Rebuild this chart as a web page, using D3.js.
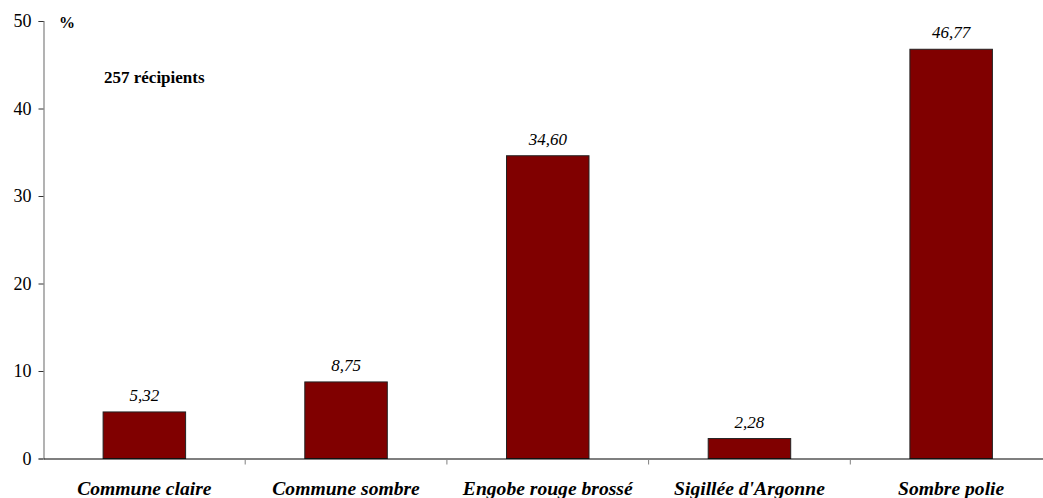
<!DOCTYPE html>
<html>
<head>
<meta charset="utf-8">
<script src="https://cdn.jsdelivr.net/npm/d3@7"></script>
<style>
  html, body { margin: 0; padding: 0; background: #fff; }
  svg { display: block; }
  svg text { font-family: "Times New Roman", "Liberation Serif", serif !important; fill: #000; }
</style>
</head>
<body>
<script>
const categories = ["Commune claire", "Commune sombre", "Engobe rouge brossé", "Sigillée d'Argonne", "Sombre polie"];
const values = [5.32, 8.75, 34.60, 2.28, 46.77];
const yTicks = [0, 10, 20, 30, 40, 50];
const unitLabel = "%";
const noteLabel = "257 récipients";

const W = 1043, H = 498;
const svg = d3.select("body").append("svg").attr("width", W).attr("height", H);

const x0 = 43.5, x1 = 1052;
const y = d3.scaleLinear().domain([0, 50]).range([458.5, 21]);
const xGroup = d3.scaleBand().domain(categories).range([x0, x1]).padding(0);
const x = d3.scaleBand().domain(categories).range([x0, x1]).paddingInner(0.591).paddingOuter(0.2955);

// bars
svg.append("g").selectAll("rect").data(values).join("rect")
  .attr("x", (d, i) => x(categories[i]))
  .attr("y", d => y(d))
  .attr("width", x.bandwidth())
  .attr("height", d => y(0) - y(d))
  .attr("fill", "#800000")
  .attr("stroke", "#222")
  .attr("stroke-width", 1);

// value labels
svg.append("g").selectAll("text").data(values).join("text")
  .attr("x", (d, i) => x(categories[i]) + x.bandwidth() / 2)
  .attr("y", d => y(d) - 11)
  .attr("text-anchor", "middle")
  .style("font-style", "italic")
  .style("font-size", "17px")
  .text(d => d.toFixed(2).replace(".", ","));

// y axis
const yAxis = svg.append("g").attr("transform", `translate(${x0},0)`)
  .call(d3.axisLeft(y).tickValues(yTicks).tickSize(5).tickPadding(7).tickFormat(d3.format("d")))
  .attr("font-family", null).attr("font-size", null);
yAxis.select(".domain").attr("stroke", "#808080").attr("stroke-width", 1.2);
yAxis.selectAll(".tick line").attr("stroke", "#333");
yAxis.selectAll(".tick text").style("font-size", "18px");

// x axis (labels at group centers)
const xAxis = svg.append("g").attr("transform", `translate(0,${y(0)})`)
  .call(d3.axisBottom(xGroup).tickSize(0).tickPadding(23))
  .attr("font-family", null).attr("font-size", null);
xAxis.select(".domain").attr("stroke", "#000").attr("stroke-width", 1.2);
xAxis.selectAll(".tick text")
  .style("font-size", "19.6px")
  .style("font-weight", "bold")
  .style("font-style", "italic");

// divider ticks between categories
svg.append("g").selectAll("line").data(categories.slice(1)).join("line")
  .attr("x1", d => xGroup(d)).attr("x2", d => xGroup(d))
  .attr("y1", y(0)).attr("y2", y(0) + 6)
  .attr("stroke", "#808080").attr("stroke-width", 1);

// annotations
svg.append("text").attr("x", 67).attr("y", 28).attr("text-anchor", "middle")
  .style("font-weight", "bold").style("font-size", "16px").text(unitLabel);
svg.append("text").attr("x", 104).attr("y", 82.5)
  .style("font-weight", "bold").style("font-size", "17px").text(noteLabel);
</script>
</body>
</html>
